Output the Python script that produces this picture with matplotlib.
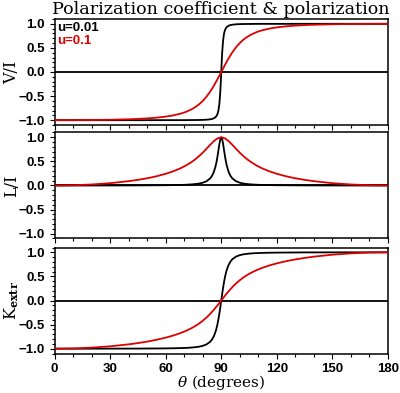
import matplotlib
matplotlib.use("Agg")
import matplotlib.pyplot as plt
from matplotlib.ticker import MultipleLocator, FuncFormatter

# ---------------- data ----------------
red_theta = [0, 10, 20, 30, 40, 45, 50, 55, 60, 64, 68, 71, 74, 76, 78, 80, 82, 84, 86, 88, 90,
             92, 94, 96, 98, 100, 102, 104, 106, 109, 112, 116, 120, 125, 130, 135, 140, 150, 160, 170, 180]
red_V = [-1.000, -0.999, -0.996, -0.991, -0.981, -0.974, -0.963, -0.948, -0.926, -0.901, -0.865,
         -0.827, -0.774, -0.728, -0.672, -0.601, -0.514, -0.409, -0.286, -0.147, 0.000,
         0.147, 0.286, 0.409, 0.514, 0.601, 0.672, 0.728, 0.774, 0.827, 0.865, 0.901, 0.926,
         0.948, 0.963, 0.974, 0.981, 0.991, 0.996, 0.999, 1.000]
red_L = [0.000, 0.005, 0.021, 0.048, 0.090, 0.117, 0.150, 0.191, 0.243, 0.294, 0.357, 0.416,
         0.488, 0.544, 0.609, 0.681, 0.761, 0.844, 0.922, 0.979, 1.000,
         0.979, 0.922, 0.844, 0.761, 0.681, 0.609, 0.544, 0.488, 0.416, 0.357, 0.294, 0.243,
         0.191, 0.150, 0.117, 0.090, 0.048, 0.021, 0.005, 0.000]
red_K = [-1.000, -0.995, -0.978, -0.951, -0.910, -0.884, -0.853, -0.816, -0.771, -0.728, -0.676,
         -0.629, -0.573, -0.529, -0.479, -0.421, -0.355, -0.278, -0.193, -0.099, 0.000,
         0.099, 0.193, 0.278, 0.355, 0.421, 0.479, 0.529, 0.573, 0.629, 0.676, 0.728, 0.771,
         0.816, 0.853, 0.884, 0.910, 0.951, 0.978, 0.995, 1.000]

black_theta = [0, 15, 30, 45, 60, 66, 70, 72, 75, 78, 80, 82, 84, 85, 86, 87, 87.5, 88, 88.5, 89,
               89.5, 89.75, 90, 90.25, 90.5, 91, 91.5, 92, 92.5, 93, 94, 95, 96, 98, 100, 102,
               105, 108, 110, 114, 120, 135, 150, 165, 180]
black_V = [-1.000, -1.000, -1.000, -1.000, -0.999, -0.999, -0.999, -0.998, -0.997, -0.996, -0.994,
           -0.990, -0.982, -0.975, -0.961, -0.934, -0.909, -0.868, -0.795, -0.658, -0.400, -0.213,
           0.000, 0.213, 0.400, 0.658, 0.795, 0.868, 0.909, 0.934, 0.961, 0.975, 0.982, 0.990,
           0.994, 0.996, 0.997, 0.998, 0.999, 0.999, 0.999, 1.000, 1.000, 1.000, 1.000]
black_L = [0.000, 0.000, 0.001, 0.002, 0.006, 0.010, 0.014, 0.018, 0.026, 0.040, 0.058, 0.088,
           0.147, 0.199, 0.280, 0.409, 0.499, 0.609, 0.735, 0.862, 0.961, 0.990, 1.000,
           0.990, 0.961, 0.862, 0.735, 0.609, 0.499, 0.409, 0.280, 0.199, 0.147, 0.088, 0.058,
           0.040, 0.026, 0.018, 0.014, 0.010, 0.006, 0.002, 0.001, 0.000, 0.000]
black_K = [-1.000, -1.000, -0.999, -0.998, -0.994, -0.990, -0.985, -0.982, -0.973, -0.959, -0.941,
           -0.912, -0.857, -0.810, -0.742, -0.638, -0.568, -0.483, -0.383, -0.266, -0.137, -0.069,
           0.000, 0.069, 0.137, 0.266, 0.383, 0.483, 0.568, 0.638, 0.742, 0.810, 0.857, 0.912,
           0.941, 0.959, 0.973, 0.982, 0.985, 0.990, 0.994, 0.998, 0.999, 1.000, 1.000]

legend_labels = ["u=0.01", "u=0.1"]
panel_ylabels = ["V/I", "L/I", r"$\mathrm{K}_{\mathbf{extr}}$"]
title = "Polarization coefficient & polarization"
xlabel = r"$\theta$ (degrees)"

# ---------------- styling ----------------
plt.rcParams["mathtext.fontset"] = "dejavuserif"
RED = "#dd0000"
W, H = 400, 393
fig = plt.figure(figsize=(W / 100, H / 100), dpi=100)

left, right = 54.5, 388.0
tops = [19.0, 132.5, 247.5]
ph = 106.0

series = [(black_V, red_V), (black_L, red_L), (black_K, red_K)]


def yfmt(v, pos):
    s = "%.1f" % abs(v)
    return ("\u2212" + s) if v < -1e-9 else s


axes = []
for i, (bk, rd) in enumerate(series):
    ax = fig.add_axes([left / W, 1 - (tops[i] + ph) / H, (right - left) / W, ph / H])
    axes.append(ax)
    ax.axhline(0, color="black", lw=1.3, zorder=1)
    ax.plot(black_theta, bk, color="black", lw=1.3, zorder=2)
    ax.plot(red_theta, rd, color=RED, lw=1.3, zorder=3)
    ax.set_xlim(0, 180)
    ax.set_ylim(-1.1, 1.1)
    ax.xaxis.set_major_locator(MultipleLocator(30))
    ax.xaxis.set_minor_locator(MultipleLocator(10))
    ax.yaxis.set_major_locator(MultipleLocator(0.5))
    ax.yaxis.set_minor_locator(MultipleLocator(0.1))
    ax.yaxis.set_major_formatter(FuncFormatter(yfmt))
    ax.tick_params(which="both", direction="out", top=False, right=False, width=0.8)
    ax.tick_params(which="major", length=3.8, pad=3)
    ax.tick_params(which="minor", length=2.0)
    for s in ax.spines.values():
        s.set_linewidth(1.1)
    for lab in ax.get_yticklabels():
        lab.set_fontfamily("Liberation Sans")
        lab.set_fontweight("bold")
        lab.set_fontsize(9.5)
    if i < 2:
        ax.set_xticklabels([])
    else:
        for lab in ax.get_xticklabels():
            lab.set_fontfamily("Liberation Sans")
            lab.set_fontweight("bold")
            lab.set_fontsize(9.5)
    ax.set_ylabel(panel_ylabels[i], family="DejaVu Serif", fontsize=11.5)
    ax.yaxis.label.set_verticalalignment("center")
    ax.yaxis.set_label_coords(-0.128, 0.5)

axes[0].text(0.008, 0.915, legend_labels[0], transform=axes[0].transAxes, color="black",
             family="Liberation Sans", weight="bold", fontsize=9.5, va="center", ha="left")
axes[0].text(0.008, 0.79, legend_labels[1], transform=axes[0].transAxes, color=RED,
             family="Liberation Sans", weight="bold", fontsize=9.5, va="center", ha="left")

fig.text(221 / W, 1 - 9.5 / H, title, family="DejaVu Serif", fontsize=12.6,
         ha="center", va="center")
fig.text(221 / W, 1 - 383 / H, xlabel, family="DejaVu Serif", fontsize=11,
         ha="center", va="center")

fig.savefig("out.png", dpi=100)
